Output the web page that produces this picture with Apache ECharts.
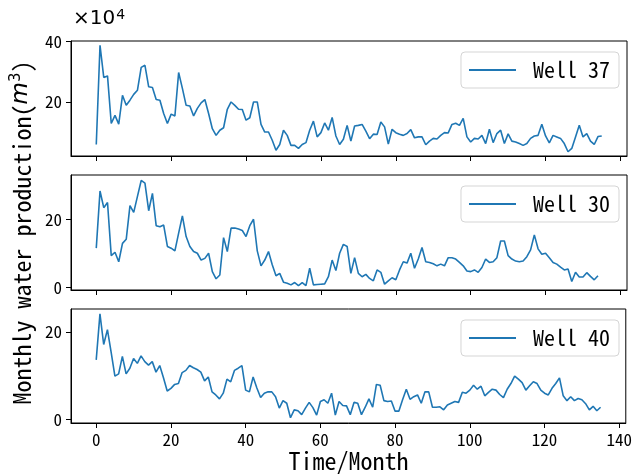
<!DOCTYPE html>
<html>
<head>
<meta charset="utf-8">
<script src="https://cdn.jsdelivr.net/npm/echarts@6/dist/echarts.min.js"></script>
<style>
  html, body { margin: 0; padding: 0; background: #fff; }
  #main { width: 635px; height: 474px; }
</style>
</head>
<body>
<div id="main"></div>
<script>
// 数据 (x10^4 m^3)
var well37 = [6.0, 38.7, 28.1, 28.6, 12.9, 15.6, 12.7, 22.2, 18.9, 20.6, 22.5, 23.9, 31.4, 32.1, 25.0, 24.8, 20.8, 20.6, 16.2, 12.9,
  16.0, 15.4, 29.7, 24.5, 18.9, 18.7, 15.4, 17.9, 19.7, 20.8, 16.2, 11.2, 9.0, 10.7, 11.5, 17.6, 20.0, 18.9, 17.6, 17.5,
  14.0, 14.8, 20.0, 20.0, 12.6, 10.1, 10.1, 7.4, 4.1, 6.0, 10.7, 9.0, 5.7, 5.7, 4.7, 6.0, 6.6, 10.7, 13.7, 8.5,
  9.9, 13.1, 10.7, 14.9, 8.8, 6.0, 7.7, 12.3, 7.1, 12.1, 12.3, 12.6, 10.4, 7.9, 9.4, 9.3, 13.4, 11.8, 6.1, 11.0,
  9.9, 9.4, 9.0, 9.6, 10.9, 8.2, 8.5, 8.5, 5.9, 7.1, 8.0, 7.8, 9.0, 9.9, 9.8, 12.6, 13.0, 12.3, 14.6, 8.5,
  6.8, 8.0, 7.8, 9.0, 6.3, 11.0, 6.6, 9.6, 10.7, 6.3, 9.5, 7.1, 6.8, 6.3, 5.7, 6.3, 8.0, 8.8, 9.0, 12.7,
  8.8, 6.5, 9.0, 8.5, 8.0, 6.3, 3.6, 4.7, 8.5, 12.3, 8.5, 9.6, 7.1, 6.0, 8.6, 8.8];
var well30 = [11.5, 28.3, 23.4, 24.9, 9.3, 10.3, 7.5, 12.9, 14.1, 24.0, 22.0, 26.7, 31.4, 30.6, 22.5, 27.6, 18.1, 17.8, 18.3, 12.0,
  11.5, 10.7, 15.9, 21.0, 14.9, 12.0, 10.5, 10.0, 8.0, 8.5, 10.0, 4.6, 2.5, 3.6, 14.6, 10.5, 17.4, 17.4, 17.1, 16.7,
  14.9, 18.1, 20.0, 10.7, 6.3, 8.0, 10.5, 6.6, 3.4, 4.1, 1.5, 1.2, 0.7, 1.4, 0.5, 1.4, 0.5, 5.6, 0.7, 0.8,
  0.9, 1.0, 3.1, 8.0, 4.9, 10.0, 12.6, 12.0, 4.1, 8.7, 4.1, 3.1, 3.8, 2.6, 1.9, 5.1, 4.4, 0.9, 1.9, 2.8,
  2.2, 5.1, 7.5, 7.1, 10.0, 5.6, 8.3, 11.7, 7.5, 7.3, 6.9, 6.3, 6.8, 6.3, 8.7, 8.7, 8.3, 7.3, 6.3, 4.8,
  4.6, 5.1, 4.4, 5.8, 8.3, 7.3, 7.5, 8.7, 13.6, 13.6, 9.3, 8.3, 7.7, 7.5, 7.7, 9.0, 11.0, 15.4, 11.3, 9.7,
  10.0, 8.7, 7.3, 6.8, 5.9, 5.1, 5.4, 1.7, 4.4, 3.0, 3.0, 4.3, 3.2, 2.2, 3.4];
var well40 = [13.6, 24.1, 17.1, 20.5, 15.3, 9.9, 10.4, 14.4, 10.4, 11.7, 13.9, 12.8, 14.5, 13.2, 12.4, 13.2, 10.8, 12.3, 9.5, 6.5,
  7.1, 8.0, 8.2, 10.7, 11.2, 12.3, 11.8, 11.4, 10.8, 8.8, 9.7, 6.3, 5.6, 4.7, 6.0, 9.2, 8.6, 11.2, 11.7, 12.3,
  6.7, 6.3, 9.7, 7.2, 5.0, 6.0, 6.3, 6.3, 5.2, 2.6, 4.3, 3.7, 0.4, 2.2, 2.0, 1.1, 2.6, 3.9, 2.7, 1.0,
  4.1, 4.5, 3.7, 6.0, 1.0, 4.1, 3.2, 3.1, 1.1, 3.9, 3.7, 1.1, 2.8, 4.7, 2.8, 8.0, 7.8, 4.3, 4.1, 4.2,
  1.9, 1.9, 4.5, 6.9, 4.6, 5.2, 5.6, 3.7, 6.3, 6.3, 2.8, 2.8, 2.9, 2.2, 3.3, 3.7, 4.1, 3.9, 6.2, 6.0,
  6.7, 7.8, 6.9, 7.6, 5.4, 6.2, 6.9, 6.7, 5.7, 5.0, 6.9, 8.2, 9.9, 9.2, 8.4, 6.7, 7.7, 8.6, 8.2, 6.7,
  6.0, 5.6, 7.1, 8.2, 9.5, 5.4, 4.3, 5.2, 4.3, 4.8, 4.5, 3.6, 2.2, 3.0, 2.0, 2.8];
var wellNames = ['Well 37', 'Well 30', 'Well 40'];
var xTicks = [0, 20, 40, 60, 80, 100, 120, 140];
var yTicks = [[20, 40], [0, 20], [0, 20]];

var wells = [well37, well30, well40];
var yRange = [[2.2, 40.1], [-0.8, 33.0], [-0.8, 25.2]];
var gridTop = [41, 175, 309];
var gridH = [115, 115, 116];
var monoFont = '"Noto Sans Mono CJK SC", "DejaVu Sans Mono", monospace';
var lineColor = '#1f77b4';

var myChart = echarts.init(document.getElementById('main'), null, { renderer: 'canvas' });

var grids = [], xAxes = [], yAxes = [], legends = [], series = [];
for (var k = 0; k < 3; k++) {
    grids.push({
        left: 71, right: 8, top: gridTop[k], height: gridH[k],
        show: true, borderColor: '#000', borderWidth: 1, backgroundColor: 'transparent'
    });
    xAxes.push({
        gridIndex: k, type: 'value', min: -6.75, max: 141.75,
        axisLine: { show: true, onZero: false, lineStyle: { color: '#000', width: 1 } },
        axisTick: { show: true, inside: false, length: 5, customValues: xTicks, lineStyle: { color: '#000' } },
        axisLabel: {
            show: k === 2, customValues: xTicks, margin: 8, color: '#000',
            fontFamily: monoFont, fontSize: 17
        },
        splitLine: { show: false },
        name: k === 2 ? 'Time/Month' : '',
        nameLocation: 'middle', nameGap: 26,
        nameTextStyle: { fontFamily: monoFont, fontSize: 24, color: '#000' }
    });
    yAxes.push({
        gridIndex: k, type: 'value', min: yRange[k][0], max: yRange[k][1],
        axisLine: { show: true, onZero: false, lineStyle: { color: '#000', width: 1 } },
        axisTick: { show: true, inside: false, length: 5, customValues: yTicks[k], lineStyle: { color: '#000' } },
        axisLabel: {
            customValues: yTicks[k], margin: 9, color: '#000',
            fontFamily: monoFont, fontSize: 17
        },
        splitLine: { show: false },
        name: k === 1 ? 'Monthly water production({i|m}{s|3})' : '',
        nameLocation: 'middle', nameGap: 37, nameRotate: 90,
        nameTextStyle: {
            fontFamily: monoFont, fontSize: 24, color: '#000',
            rich: {
                i: { fontFamily: 'DejaVu Sans', fontStyle: 'italic', fontSize: 23, color: '#000' },
                s: { fontFamily: 'DejaVu Sans', fontSize: 15, color: '#000', verticalAlign: 'top', padding: [0, 0, 10, 0] }
            }
        }
    });
    legends.push({
        data: [wellNames[k]], top: gridTop[k] + 11, right: 16,
        icon: 'rect', itemWidth: 47, itemHeight: 2,
        backgroundColor: '#fff', borderColor: '#d5d5d5', borderWidth: 1, borderRadius: 4,
        padding: [7, 9, 7, 8],
        textStyle: { fontFamily: monoFont, fontSize: 22, color: '#000', padding: [0, 0, 0, 12] }
    });
    series.push({
        name: wellNames[k], type: 'line', xAxisIndex: k, yAxisIndex: k,
        data: wells[k].map(function (v, i) { return [i, v]; }),
        showSymbol: false, symbol: 'none',
        lineStyle: { color: lineColor, width: 1.6 },
        itemStyle: { color: lineColor }
    });
}

var option = {
    animation: false,
    backgroundColor: '#fff',
    grid: grids,
    xAxis: xAxes,
    yAxis: yAxes,
    legend: legends,
    series: series,
    graphic: [{
        type: 'text', left: 73, top: 8,
        style: {
            text: '{b|×10}{s|4}',
            rich: {
                b: { fontFamily: 'DejaVu Sans', fontSize: 20, fill: '#000', color: '#000' },
                s: { fontFamily: 'DejaVu Sans', fontSize: 14, fill: '#000', color: '#000', verticalAlign: 'top', padding: [0, 0, 8, 1] }
            }
        }
    }]
};

myChart.setOption(option);
</script>
</body>
</html>
